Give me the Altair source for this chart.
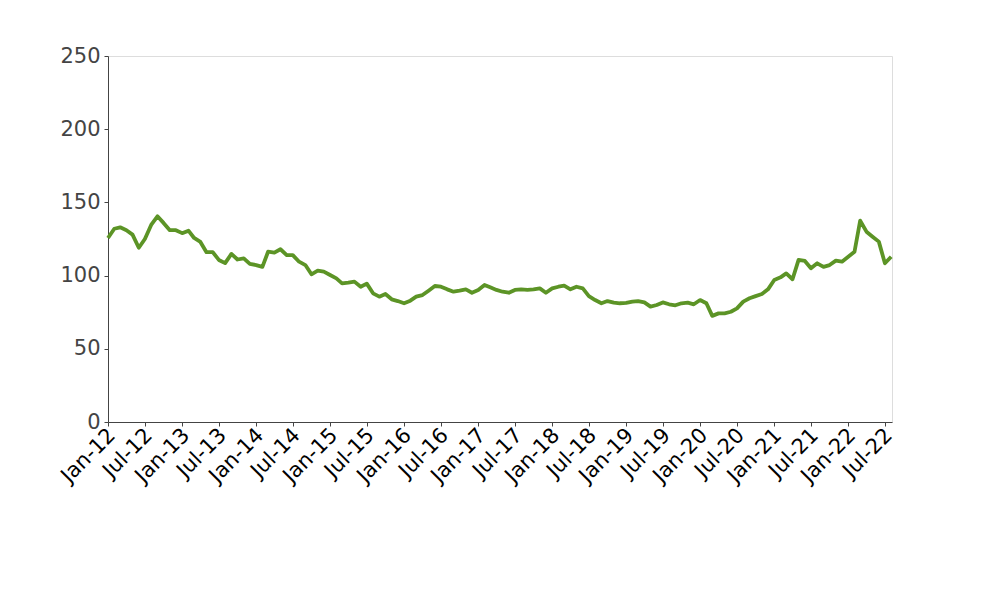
import altair as alt
import pandas as pd

start_month = "2012-01-01"
values = [
    125.7, 132.0, 133.0, 131.0, 128.0, 119.0, 125.0, 134.6, 140.5, 136.0, 131.0, 131.0,
    129.0, 130.7, 125.7, 123.0, 116.0, 116.0, 110.7, 108.5, 114.8, 111.0, 111.8, 108.0,
    107.2, 106.0, 116.3, 115.7, 118.0, 114.0, 114.0, 109.5, 107.2, 100.9, 103.4, 102.7,
    100.4, 98.1, 94.7, 95.2, 95.9, 92.4, 94.5, 87.9, 85.6, 87.4, 83.8, 82.6,
    81.1, 82.9, 85.6, 86.7, 89.7, 92.9, 92.4, 90.6, 89.0, 89.7, 90.6, 88.3,
    90.2, 93.6, 92.0, 90.2, 89.0, 88.3, 90.2, 90.6, 90.2, 90.6, 91.3, 88.3,
    91.3, 92.4, 93.1, 90.6, 92.4, 91.3, 86.0, 83.3, 81.1, 82.6, 81.5, 81.1,
    81.3, 82.2, 82.6, 81.7, 78.8, 79.9, 81.7, 80.4, 79.7, 81.1, 81.5, 80.4,
    83.3, 81.1, 72.5, 74.2, 74.2, 75.3, 77.6, 82.2, 84.5, 86.0, 87.4, 90.6,
    97.0, 98.8, 101.5, 97.5, 110.7, 110.0, 105.0, 108.4, 106.0, 107.2, 110.2, 109.5,
    112.9, 116.3, 137.5, 130.0, 126.6, 123.2, 108.4, 112.9,
]
dates = pd.date_range(start_month, periods=len(values), freq="MS")
df = pd.DataFrame({"date": dates, "value": values})

y_ticks = [0, 50, 100, 150, 200, 250]
x_ticks = [d.isoformat() for d in pd.date_range("2012-01-01", "2022-07-01", freq="6MS")]

line = alt.Chart(df).mark_line(color="#5c9426", strokeWidth=3.8, strokeJoin="round").encode(
    x=alt.X(
        "date:T",
        scale=alt.Scale(domain=["2012-01-01", "2022-08-05"], nice=False),
        axis=alt.Axis(
            title=None,
            format="%b-%y",
            values=x_ticks,
            labelAngle=-45,
            labelAlign="right",
            labelBaseline="top",
            labelFontSize=21,
            labelColor="#000000",
            labelFont="DejaVu Sans",
            labelPadding=-2,
            labelOffset=-4,
            tickSize=4,
            tickColor="#444444",
            domainColor="#444444",
            grid=False,
            labelOverlap=False,
            labelFlush=False,
        ),
    ),
    y=alt.Y(
        "value:Q",
        scale=alt.Scale(domain=[0, 250], nice=False),
        axis=alt.Axis(
            title=None,
            values=y_ticks,
            labelFontSize=21,
            labelColor="#444444",
            labelFont="DejaVu Sans",
            labelPadding=4,
            tickSize=4,
            tickColor="#444444",
            domainColor="#444444",
            grid=False,
        ),
    ),
)

chart = line.properties(
    width=784,
    height=366,
    padding={"left": 100, "top": 48, "right": 100, "bottom": 170},
    autosize=alt.AutoSizeParams(type="none"),
).configure_view(stroke="#777777", strokeWidth=1).configure(background="white")

chart.save("out.html", embed_options={"renderer": "svg", "actions": False})
